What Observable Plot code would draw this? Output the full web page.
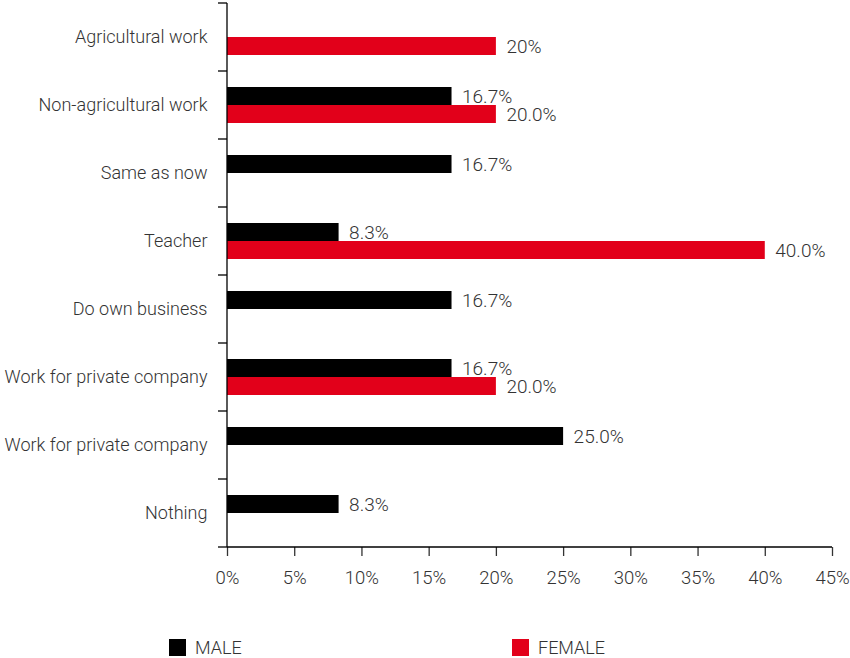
<!DOCTYPE html>
<html>
<head>
<meta charset="utf-8">
<script src="https://cdn.jsdelivr.net/npm/d3@7"></script>
<script src="https://cdn.jsdelivr.net/npm/@observablehq/plot@0.6"></script>
<style>
  html, body { margin: 0; padding: 0; background: #fff; }
  body { width: 850px; font-family: Roboto, "Liberation Sans", sans-serif; font-weight: 300; color: #333; }
  #legend { position: relative; height: 38px; font-size: 18px; }
  .item { position: absolute; display: flex; align-items: center; gap: 9px; top: 17px; }
  .sw { width: 17px; height: 17px; display: inline-block; }
</style>
</head>
<body>
<div id="chart"></div>
<div id="legend"></div>
<script>
const categories = ["Agricultural work", "Non-agricultural work", "Same as now", "Teacher", "Do own business", "Work for private company", "Work for private company", "Nothing"];
const series = ["MALE", "FEMALE"];
const maleValues = [null, 16.7, 16.7, 8.3, 16.7, 16.7, 25.0, 8.3];
const femaleValues = [20, 20.0, null, 40.0, null, 20.0, null, null];
const maleLabels = [null, "16.7%", "16.7%", "8.3%", "16.7%", "16.7%", "25.0%", "8.3%"];
const femaleLabels = ["20%", "20.0%", null, "40.0%", null, "20.0%", null, null];
const xTicks = [0, 5, 10, 15, 20, 25, 30, 35, 40, 45];
const colors = ["#000000", "#e2001a"];

const keys = categories.map((c, i) => i);
const data = [];
categories.forEach((c, i) => {
  if (maleValues[i] != null) data.push({key: i, sex: "MALE", value: maleValues[i], label: maleLabels[i]});
  if (femaleValues[i] != null) data.push({key: i, sex: "FEMALE", value: femaleValues[i], label: femaleLabels[i]});
});

const font = "Roboto, 'Liberation Sans', sans-serif";
const chart = Plot.plot({
  width: 850,
  height: 620,
  marginLeft: 227,
  marginRight: 18,
  marginTop: 2,
  marginBottom: 73,
  style: {fontFamily: font, fontWeight: 300, fontSize: "18px", color: "#333", background: "#fff"},
  x: {domain: [0, 45], axis: null},
  y: {domain: series, paddingInner: 0, paddingOuter: 0.83, axis: null},
  fy: {domain: keys, padding: 0, axis: null},
  color: {domain: series, range: colors},
  marks: [
    Plot.barX(data, {x: "value", y: "sex", fy: "key", fill: "sex"}),
    Plot.text(data, {x: "value", y: "sex", fy: "key", text: "label", textAnchor: "start", dx: 10, fontSize: 19, fill: "#333"}),
    Plot.axisFy({tickSize: 0, tickPadding: 20, fontSize: 18, tickFormat: k => categories[k], label: null, anchor: "left", fill: "#333"}),
    Plot.axisX({ticks: xTicks, tickSize: 9, tickPadding: 14, tickFormat: d => d + "%", fontSize: 18.5, label: null, fill: "#333", strokeWidth: 1.3})
  ]
});

// axis line, category separators and baseline, placed with the plot's own scales
const fy = chart.scale("fy"), xs = chart.scale("x");
const x0 = xs.apply(0), x1 = xs.apply(xs.domain[1]);
const bw = fy.bandwidth;
const tops = keys.map(k => fy.apply(k));
const bottom = tops[tops.length - 1] + bw;
const g = d3.select(chart).append("g").attr("stroke", "#000").attr("stroke-width", 1.3).attr("fill", "none");
g.append("line").attr("x1", x0).attr("x2", x0).attr("y1", tops[0]).attr("y2", bottom);
[...tops, bottom].forEach(y => g.append("line").attr("x1", x0 - 9).attr("x2", x0).attr("y1", y).attr("y2", y));
g.append("line").attr("x1", x0).attr("x2", x1).attr("y1", bottom).attr("y2", bottom);

document.getElementById("chart").appendChild(chart);

const legend = document.getElementById("legend");
const legendX = [169, 512];
series.forEach((s, i) => {
  const it = document.createElement("div");
  it.className = "item";
  it.style.left = legendX[i] + "px";
  it.innerHTML = `<span class="sw" style="background:${colors[i]}"></span><span>${s}</span>`;
  legend.appendChild(it);
});
</script>
</body>
</html>
